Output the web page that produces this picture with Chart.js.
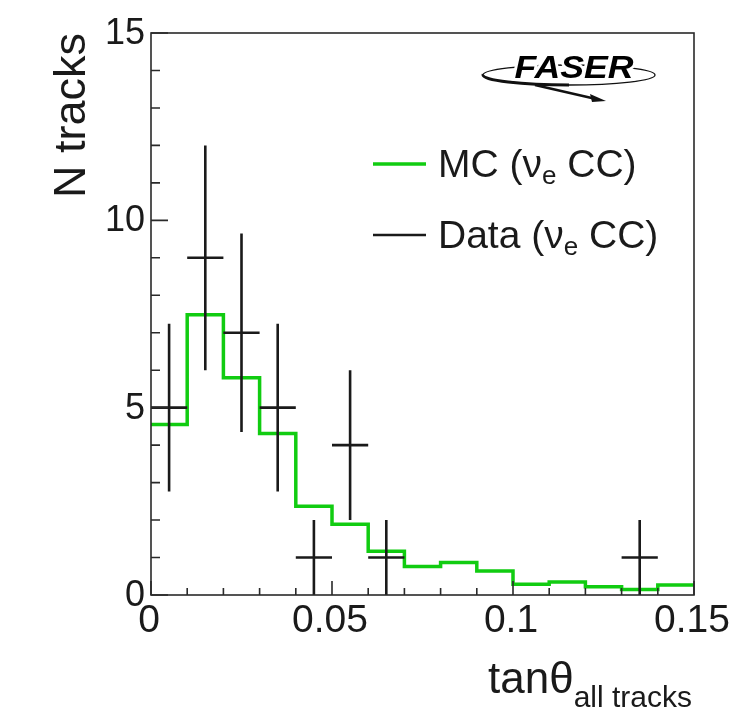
<!DOCTYPE html>
<html>
<head>
<meta charset="utf-8">
<script src="https://cdn.jsdelivr.net/npm/chart.js@4/dist/chart.umd.min.js"></script>
<style>
  html, body { margin: 0; padding: 0; background: #fff; }
  #c { display: block; }
</style>
</head>
<body>
<canvas id="c" width="743" height="715"></canvas>
<script>
// histogram bins (tan theta), 0.01 wide
const binEdges = [0, 0.01, 0.02, 0.03, 0.04, 0.05, 0.06, 0.07, 0.08, 0.09, 0.10, 0.11, 0.12, 0.13, 0.14, 0.15]
const mcValues = [4.55, 7.48, 5.8, 4.31, 2.37, 1.89, 1.17, 0.76, 0.87, 0.64, 0.29, 0.35, 0.22, 0.15, 0.27]

// data points (bin centres with entries)
const dataX = [0.005, 0.015, 0.025, 0.035, 0.045, 0.055, 0.065, 0.135]
const dataY = [5, 9, 7, 5, 1, 4, 1, 1]
const dataErr = [2.24, 3.0, 2.65, 2.24, 1.0, 2.0, 1.0, 1.0]
const binHalf = 0.005

const xTicks = [0, 0.05, 0.1, 0.15]
const xTickLabels = ['0', '0.05', '0.1', '0.15']
const yTicks = [0, 5, 10, 15]
const yTickLabels = ['0', '5', '10', '15']

const FONT = '"Liberation Sans", Arial, Helvetica, sans-serif'
const GREEN = '#11cc11'
const INK = '#1a1a1a'

// each point starts a bin; last edge repeats the last bin so the step closes at 0.15
const mcPoints = binEdges.map((e, i) => ({ x: e, y: mcValues[Math.min(i, mcValues.length - 1)] }))
const dataPoints = dataX.map((x, i) => ({ x, y: dataY[i] }))

// frame, inward ticks and labels, ROOT style
const axesPlugin = {
    id: 'rootAxes',
    afterDatasetsDraw(chart) {
        const { ctx, chartArea: a, scales: { x, y } } = chart
        ctx.save()

        // error-bar crosses for data
        ctx.strokeStyle = INK
        ctx.lineWidth = 2.6
        ctx.lineCap = 'butt'
        dataPoints.forEach((p, i) => {
            const px = x.getPixelForValue(p.x)
            const py = y.getPixelForValue(p.y)
            ctx.beginPath()
            ctx.moveTo(x.getPixelForValue(p.x - binHalf), py)
            ctx.lineTo(x.getPixelForValue(p.x + binHalf), py)
            ctx.moveTo(px, y.getPixelForValue(Math.max(0, p.y - dataErr[i])))
            ctx.lineTo(px, y.getPixelForValue(p.y + dataErr[i]))
            ctx.stroke()
        })

        // frame
        ctx.strokeStyle = '#2a2a2a'
        ctx.lineWidth = 1.6
        ctx.strokeRect(a.left, a.top, a.right - a.left, a.bottom - a.top)

        // ticks
        ctx.beginPath()
        for (let v = 0; v <= 15.001; v += 1) {
            const py = y.getPixelForValue(v)
            const len = (Math.round(v) % 5 === 0) ? 17 : 9
            ctx.moveTo(a.left, py)
            ctx.lineTo(a.left + len, py)
        }
        for (let k = 0; k <= 15; k++) {
            const px = x.getPixelForValue(k * 0.01)
            const len = (k % 5 === 0) ? 14 : 7
            ctx.moveTo(px, a.bottom)
            ctx.lineTo(px, a.bottom - len)
        }
        ctx.stroke()

        // tick labels
        ctx.fillStyle = INK
        ctx.font = '36px ' + FONT
        ctx.textAlign = 'right'
        ctx.textBaseline = 'alphabetic'
        yTicks.forEach((v, i) => {
            ctx.fillText(yTickLabels[i], a.left - 6, y.getPixelForValue(v) + 11)
        })
        ctx.font = '39px ' + FONT
        ctx.textAlign = 'center'
        xTicks.forEach((v, i) => {
            ctx.fillText(xTickLabels[i], x.getPixelForValue(v) - 2, a.bottom + 37)
        })

        // y title
        ctx.save()
        ctx.translate(85, a.top)
        ctx.rotate(-Math.PI / 2)
        ctx.font = '45px ' + FONT
        ctx.textAlign = 'right'
        ctx.fillText('N tracks', 0, 0)
        ctx.restore()

        // x title: tan theta with subscript
        ctx.textAlign = 'left'
        ctx.font = '44px ' + FONT
        const main = 'tan\u03b8'
        const w1 = ctx.measureText(main).width
        ctx.font = '30px ' + FONT
        const sub = 'all tracks'
        const w2 = ctx.measureText(sub).width
        const x0 = 692 - w1 - w2
        ctx.font = '44px ' + FONT
        ctx.fillText(main, x0, 693)
        ctx.font = '30px ' + FONT
        ctx.fillText(sub, x0 + w1, 707)

        // legend
        const legend = [
            { color: GREEN, width: 3.5, head: 'MC (\u03bd', yy: 164 },
            { color: INK, width: 2.6, head: 'Data (\u03bd', yy: 235 }
        ]
        legend.forEach(l => {
            ctx.strokeStyle = l.color
            ctx.lineWidth = l.width
            ctx.beginPath()
            ctx.moveTo(373, l.yy)
            ctx.lineTo(426, l.yy)
            ctx.stroke()
            ctx.fillStyle = INK
            ctx.textBaseline = 'middle'
            ctx.font = '39px ' + FONT
            let tx = 438
            ctx.fillText(l.head, tx, l.yy + 2)
            tx += ctx.measureText(l.head).width
            ctx.font = '26px ' + FONT
            ctx.fillText('e', tx, l.yy + 13)
            tx += ctx.measureText('e').width + 4
            ctx.font = '39px ' + FONT
            ctx.fillText(' CC)', tx - 4, l.yy + 2)
        })

        // FASER logo
        ctx.strokeStyle = '#111'
        ctx.lineWidth = 1.3
        ctx.beginPath()
        ctx.ellipse(569, 75, 86, 10, 0, 0, Math.PI * 2)
        ctx.stroke()
        ctx.lineWidth = 3
        ctx.beginPath()
        ctx.ellipse(569, 75, 86, 10, 0, Math.PI * 0.5, Math.PI * 1.02)
        ctx.stroke()
        ctx.lineWidth = 2.4
        ctx.beginPath()
        ctx.moveTo(535, 85)
        ctx.quadraticCurveTo(565, 92, 596, 99)
        ctx.stroke()
        ctx.fillStyle = '#111'
        ctx.beginPath()
        ctx.moveTo(606, 101)
        ctx.lineTo(590, 94)
        ctx.lineTo(592, 102)
        ctx.closePath()
        ctx.fill()
        ctx.save()
        ctx.translate(574, 78)
        ctx.scale(1.15, 1)
        ctx.font = 'italic bold 31px ' + FONT
        ctx.textAlign = 'center'
        ctx.textBaseline = 'alphabetic'
        ctx.lineWidth = 5
        ctx.strokeStyle = '#fff'
        ctx.strokeText('FASER', 0, 0)
        ctx.fillStyle = '#000'
        ctx.fillText('FASER', 0, 0)
        ctx.restore()

        ctx.restore()
    }
}

new Chart('c', {
    type: 'line',
    data: {
        datasets: [{
            label: 'MC (\u03bde CC)',
            data: mcPoints,
            stepped: 'before',
            borderColor: GREEN,
            borderWidth: 3.5,
            pointRadius: 0,
            fill: false
        }, {
            label: 'Data (\u03bde CC)',
            type: 'scatter',
            data: dataPoints,
            pointRadius: 0,
            showLine: false
        }]
    },
    options: {
        responsive: false,
        animation: false,
        devicePixelRatio: 1,
        layout: { padding: { left: 151, top: 33, right: 49, bottom: 120 } },
        plugins: {
            legend: { display: false },
            tooltip: { enabled: false }
        },
        scales: {
            x: { type: 'linear', min: 0, max: 0.15, display: false },
            y: { type: 'linear', min: 0, max: 15, display: false }
        }
    },
    plugins: [axesPlugin]
})
</script>
</body>
</html>
